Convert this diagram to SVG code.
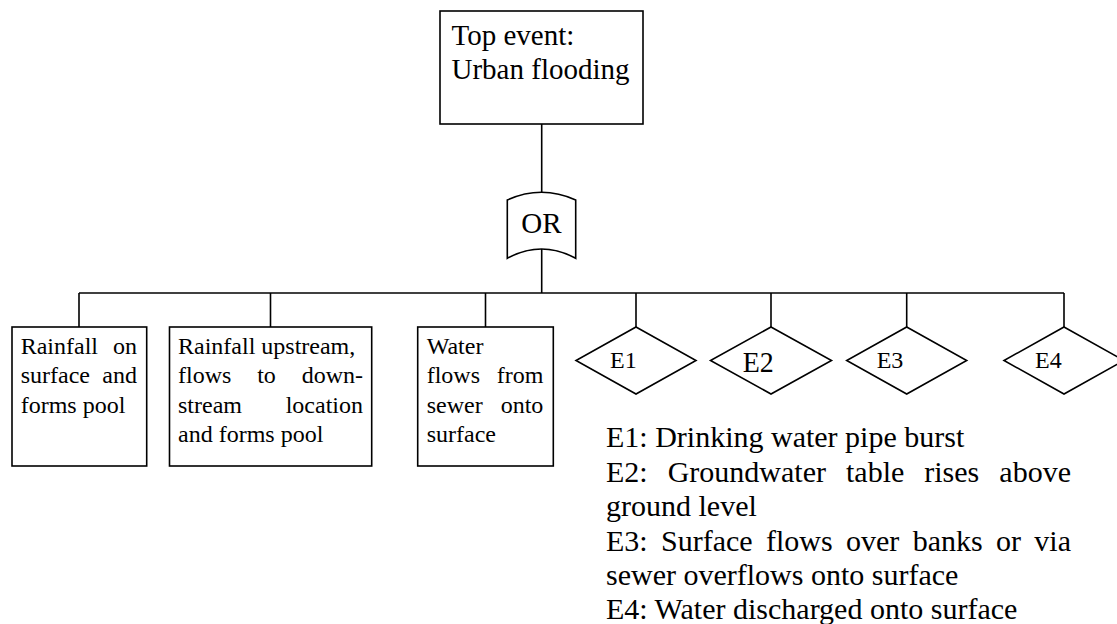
<svg xmlns="http://www.w3.org/2000/svg" width="1117" height="624" viewBox="0 0 1117 624">
<style>
.b{fill:#fff;stroke:#000;stroke-width:1.6}
.l{fill:none;stroke:#000;stroke-width:1.6}
text{font-family:"Liberation Serif","Times New Roman",serif;fill:#000}
.t29{font-size:29px}
.t24{font-size:24px}
.t30{font-size:30px}
</style>
<rect width="1117" height="624" fill="#fff"/>
<g id="connectors">
<path class="l" d="M541.7,124V192.5M541.7,249V293"/>
<path class="l" d="M79,293H1064" stroke-width="2"/>
<path class="l" d="M79,293V327M270.5,293V327M485.5,293V327M636,293V327M771,293V327M906.7,293V327M1064,293V327"/>
</g>
<g id="top">
<rect class="b" x="440" y="11" width="203" height="113"/>
<text class="t29" x="451.5" y="45">Top event:</text>
<text class="t29" x="451.5" y="79">Urban flooding</text>
</g>
<g id="or-gate">
<path class="b" d="M507.3,200Q541.5,184.6 575.7,200V258.3Q541.5,239.7 507.3,258.3Z"/>
<text class="t29" x="541.5" y="233" text-anchor="middle">OR</text>
</g>
<g id="b1">
<rect class="b" x="12" y="327" width="134.7" height="139"/>
<text class="t24"><tspan x="20.7" y="354">Rainfall</tspan><tspan x="137" y="354" text-anchor="end">on</tspan><tspan x="20.7" y="383.3">surface</tspan><tspan x="137" y="383.3" text-anchor="end">and</tspan><tspan x="20.7" y="412.6">forms pool</tspan></text>
</g>
<g id="b2">
<rect class="b" x="169.5" y="327" width="202.2" height="139"/>
<text class="t24"><tspan x="178" y="354">Rainfall upstream,</tspan><tspan x="178" y="383.3">flows</tspan><tspan x="257.2" y="383.3">to</tspan><tspan x="363" y="383.3" text-anchor="end">down-</tspan><tspan x="178" y="412.6">stream</tspan><tspan x="363" y="412.6" text-anchor="end">location</tspan><tspan x="178" y="441.9">and forms pool</tspan></text>
</g>
<g id="b3">
<rect class="b" x="417.7" y="327" width="135.6" height="139"/>
<text class="t24"><tspan x="426.7" y="354">Water</tspan><tspan x="426.7" y="383.3">flows</tspan><tspan x="543.3" y="383.3" text-anchor="end">from</tspan><tspan x="426.7" y="412.6">sewer</tspan><tspan x="543.3" y="412.6" text-anchor="end">onto</tspan><tspan x="426.7" y="441.9">surface</tspan></text>
</g>
<g id="e1">
<path class="b" d="M636,327L696,360.5L636,394L576,360.5Z"/>
<text class="t24" x="610" y="368">E1</text>
</g>
<g id="e2">
<path class="b" d="M771,327L831.5,360.5L771,394L710.5,360.5Z"/>
<text class="t30" x="742.7" y="371.5" textLength="31" lengthAdjust="spacingAndGlyphs">E2</text>
</g>
<g id="e3">
<path class="b" d="M906.7,327L966.7,360.5L906.7,394L846.7,360.5Z"/>
<text class="t24" x="876.7" y="368">E3</text>
</g>
<g id="e4">
<path class="b" d="M1064,327L1124,360.5L1064,394L1004,360.5Z"/>
<text class="t24" x="1035" y="368">E4</text>
</g>
<g id="legend">
<text class="t30"><tspan x="606" y="447">E1: Drinking water pipe burst</tspan><tspan x="606" y="481.5">E2:</tspan><tspan x="667.7" y="481.5">Groundwater</tspan><tspan x="846" y="481.5">table</tspan><tspan x="924.3" y="481.5">rises</tspan><tspan x="1071" y="481.5" text-anchor="end">above</tspan><tspan x="606" y="516">ground level</tspan><tspan x="606" y="550.5">E3:</tspan><tspan x="661" y="550.5">Surface</tspan><tspan x="766" y="550.5">flows</tspan><tspan x="846" y="550.5">over</tspan><tspan x="912.7" y="550.5">banks</tspan><tspan x="996" y="550.5">or</tspan><tspan x="1071" y="550.5" text-anchor="end">via</tspan><tspan x="606" y="585">sewer overflows onto surface</tspan><tspan x="606" y="619">E4: Water discharged onto surface</tspan></text>
</g>
</svg>
